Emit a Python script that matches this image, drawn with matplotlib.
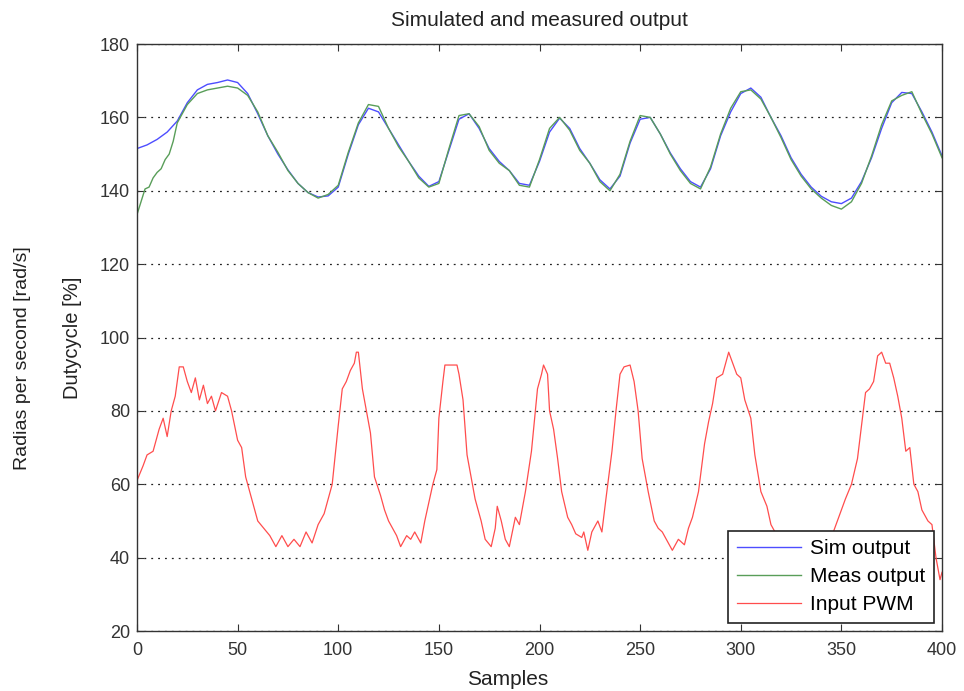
import matplotlib
matplotlib.use("Agg")
import matplotlib.pyplot as plt

plt.rcParams['font.family'] = ['Liberation Sans', 'DejaVu Sans']

# ---------------- data ----------------
sim_x = list(range(0, 401, 5))
sim_y = [151.5, 152.5, 154, 156, 159, 164, 167.5, 169, 169.5, 170.2,
         169.5, 166.5, 161, 155, 150, 145.7, 142, 139.5, 138.3, 138.6,
         141, 150, 158, 162.5, 161.5, 157, 152.5, 148, 144, 141.2,
         142.5, 151, 159.5, 161, 157, 151.5, 148, 145.5, 142, 141.5,
         148, 156, 159.8, 157, 151.5, 147.5, 143, 140.5, 144, 153,
         159.5, 160, 155.5, 150.3, 146, 142.5, 141, 146, 155, 161.5,
         166.5, 168, 165.5, 160, 155, 149, 144.5, 141, 138.5, 137,
         136.5, 138, 142.5, 149, 157, 164, 166.8, 166.5, 161.5, 156,
         149.5]

meas_x = [0, 2, 4, 6, 8, 10, 12, 14, 16, 18] + list(range(20, 401, 5))
meas_y = [133.5, 137, 140.5, 141, 143.5, 145, 146, 148.5, 150, 153.5,
          158.5, 163.5, 166.5, 167.5, 168, 168.5, 168, 166, 161.5, 155,
          150.5, 145.5, 142, 139.5, 138, 139, 141.5, 150.5, 158.5, 163.5,
          163, 157, 152, 148, 143.5, 141, 142, 151.5, 160.5, 161,
          157.5, 151, 147.5, 145.5, 141.5, 141, 148.5, 157, 160, 156.5,
          151, 147.5, 142.5, 140, 144.5, 153.5, 160.5, 160, 155.5, 150,
          145.5, 142, 140.5, 146.5, 155.5, 162.5, 167, 167.5, 165, 160,
          154.5, 148.5, 144, 140.5, 138, 136, 135, 137, 142, 149.5,
          158, 164.5, 166, 167, 161, 155.5, 149]

pwm_x = [0, 3, 5, 8, 11, 13, 15, 17, 19, 21, 23, 25, 27, 29, 31, 33, 35, 37, 39,
         42, 45, 47, 50, 52, 54, 57, 60, 63, 66, 69, 72, 75, 78, 81, 84, 87, 90,
         93, 97, 100, 102, 104, 106, 108, 109, 110, 112, 114, 116, 118, 121, 123,
         125, 127, 129, 131, 134, 136, 138, 141, 143, 145, 147, 149, 150, 152, 153,
         156, 159, 160, 162, 164, 166, 168, 171, 173, 176, 178, 179, 181, 183, 185,
         188, 190, 193, 196, 199, 201, 202, 204, 205, 207, 209, 211, 214, 216, 218,
         221, 222, 224, 226, 229, 231, 233, 236, 238, 240, 242, 245, 247, 249, 251,
         254, 257, 259, 261, 264, 266, 269, 272, 274, 276, 279, 282, 284, 286, 288,
         291, 294, 296, 298, 300, 302, 305, 307, 310, 313, 315, 318, 322, 326, 330,
         334, 338, 342, 346, 348, 350, 352, 355, 358, 360, 362, 364, 366, 368, 370,
         372, 374, 376, 378, 380, 382, 384, 386, 388, 390, 393, 395, 397, 399, 400]
pwm_y = [61, 65, 68, 69, 75, 78, 73, 80, 84, 92, 92, 88, 85, 89, 83, 87, 82, 84, 80,
         85, 84, 80, 72, 70, 62, 56, 50, 48, 46, 43, 46, 43, 45, 43, 47, 44, 49,
         52, 60, 76, 86, 88, 91, 93, 96, 96, 86, 80, 74, 62, 57, 53,
         50, 48, 46, 43, 46, 45, 47, 44, 50, 55, 60, 64, 78, 88, 92.5,
         92.5, 92.5, 90, 83, 68, 62, 56, 50, 45, 43, 48, 54, 50, 45, 43,
         51, 49, 58, 69, 86, 90, 92.5, 90, 80, 75, 67, 58, 51, 49, 46.5,
         45.5, 47, 42, 47, 50, 47, 56, 69, 80, 90, 92, 92.5, 88, 80, 67,
         58, 50, 48, 47, 44, 42, 45, 43.5, 48, 51, 58, 71, 77, 82, 89,
         90, 96, 93, 90, 89, 83, 78, 68, 58, 54, 49, 46, 44, 42, 43,
         42, 45, 44, 47, 50, 53, 56, 60, 67, 76, 85, 86, 88, 95, 96,
         93, 93, 89, 84, 78, 69, 70, 60, 58, 53, 50, 49, 40, 34, 36]

x_ticks = [0, 50, 100, 150, 200, 250, 300, 350, 400]
y_ticks = [20, 40, 60, 80, 100, 120, 140, 160, 180]

# ---------------- figure ----------------
fig = plt.figure(figsize=(9.64, 6.91), dpi=100)
ax = fig.add_axes([0.1421, 0.0868, 0.8351, 0.8495])

ax.plot(sim_x, sim_y, color=(0.3, 0.3, 1.0), lw=1.0, label='Sim output')
ax.plot(meas_x, meas_y, color=(0.35, 0.62, 0.35), lw=1.0, label='Meas output')
ax.plot(pwm_x, pwm_y, color=(1.0, 0.3, 0.3), lw=0.9, label='Input PWM')

ax.set_xlim(0, 400)
ax.set_ylim(20, 180)
ax.set_xticks(x_ticks)
ax.set_yticks(y_ticks)
ax.tick_params(direction='in', top=True, right=True, labelsize=13, length=5,
               colors='#333333')
ax.tick_params(axis='x', pad=8)
ax.tick_params(axis='y', pad=5)
for s in ax.spines.values():
    s.set_color('#333333')
    s.set_linewidth(1.0)

ax.yaxis.grid(True, linestyle=(0, (1.5, 4)), color='#222222', lw=0.9)
ax.xaxis.grid(False)

ax.set_title('Simulated and measured output', fontsize=15, color='#222222', pad=13)

fig.text(0.527, 0.016, 'Samples', fontsize=15, color='#222222',
         ha='center', va='center')
fig.text(0.023, 0.482, 'Radias per second [rad/s]', rotation=90, fontsize=14,
         color='#222222', ha='center', va='center')
fig.text(0.075, 0.511, 'Dutycycle [%]', rotation=90, fontsize=14.5,
         color='#222222', ha='center', va='center')

leg = ax.legend(loc='lower right', fontsize=15, fancybox=False, framealpha=1,
                edgecolor='#222222', borderaxespad=0.4, handlelength=3.1,
                handletextpad=0.4, borderpad=0.42, labelspacing=0.42)
leg.get_frame().set_linewidth(1.2)

fig.savefig('out.png', dpi=100)
